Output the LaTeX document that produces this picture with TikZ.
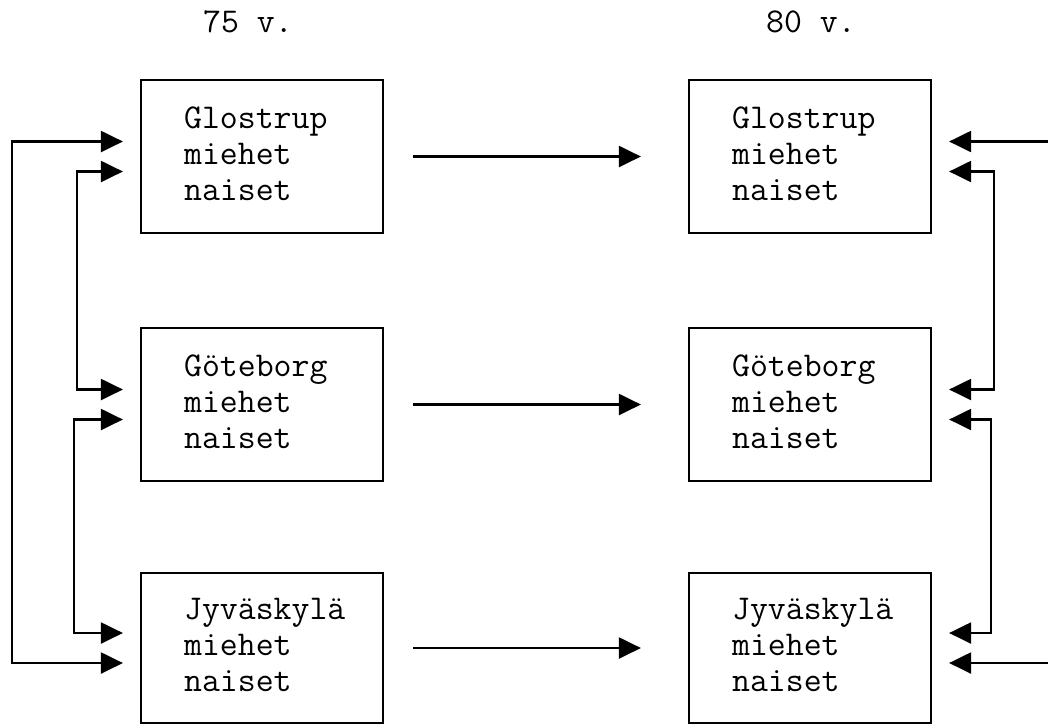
\documentclass[tikz,border=0pt]{standalone}
\usepackage{fontspec}
\usetikzlibrary{arrows.meta}
\begin{document}
\begin{tikzpicture}[x=1pt,y=-1pt,
  every node/.style={font=\ttfamily\fontsize{34.8}{36}\selectfont},
  cell/.style={draw, line width=2.2pt, minimum width=242pt, minimum height=153pt, inner sep=0pt},
  txt/.style={anchor=west, align=left, inner sep=0pt},
  head/.style={inner sep=0pt, anchor=base west},
  tip/.tip={Triangle[length=22pt,width=21pt]},
  link/.style={line width=2.2pt, tip-tip},
  fwd/.style={line width=2.2pt, -tip}]
\clip (0,0) rectangle (1048,724);

% column headings
\node[head] (h75) at (203,32) {75 v.};
\node[head] (h80) at (766,32) {80 v.};

% boxes, age 75
\node[cell] (g75) at (262,156.5) {};
\node[cell] (o75) at (262,404.5) {};
\node[cell, minimum height=150pt] (j75) at (262,648) {};
% boxes, age 80
\node[cell] (g80) at (810,156.5) {};
\node[cell] (o80) at (810,404.5) {};
\node[cell, minimum height=150pt] (j80) at (810,648) {};

% box contents
\node[txt] (g75t) at ([xshift=44pt,yshift=3pt]g75.west) {Glostrup\\miehet\\naiset};
\node[txt] (o75t) at ([xshift=44pt,yshift=3pt]o75.west) {Göteborg\\miehet\\naiset};
\node[txt] (j75t) at ([xshift=44pt,yshift=3pt]j75.west) {Jyväskylä\\miehet\\naiset};
\node[txt] (g80t) at ([xshift=44pt,yshift=3pt]g80.west) {Glostrup\\miehet\\naiset};
\node[txt] (o80t) at ([xshift=44pt,yshift=3pt]o80.west) {Göteborg\\miehet\\naiset};
\node[txt] (j80t) at ([xshift=44pt,yshift=3pt]j80.west) {Jyväskylä\\miehet\\naiset};

% follow-up arrows 75 -> 80
\draw[fwd] ([xshift=29pt]g75.east) -- ([xshift=-47pt]g80.west);
\draw[fwd] ([xshift=29pt]o75.east) -- ([xshift=-47pt]o80.west);
\draw[fwd] ([xshift=29pt]j75.east) -- ([xshift=-47pt]j80.west);

% comparisons between centres, age 75
\draw[link] ([xshift=-17pt,yshift=-15pt]j75.west) -- ++(-111,0) |- ([xshift=-17pt,yshift=15pt]g75.west);
\draw[link] ([xshift=-17pt,yshift=-15pt]g75.west) -- ++(-46,0) |- ([xshift=-17pt,yshift=15pt]o75.west);
\draw[link] ([xshift=-17pt,yshift=-15pt]o75.west) -- ++(-49,0) |- ([xshift=-17pt,yshift=15pt]j75.west);

% comparisons between centres, age 80
\draw[link] ([xshift=17pt,yshift=15pt]g80.east) -- ++(112,0) |- ([xshift=17pt,yshift=-15pt]j80.east);
\draw[link] ([xshift=17pt,yshift=-15pt]g80.east) -- ++(45,0) |- ([xshift=17pt,yshift=15pt]o80.east);
\draw[link] ([xshift=17pt,yshift=-15pt]o80.east) -- ++(42,0) |- ([xshift=17pt,yshift=15pt]j80.east);
\end{tikzpicture}
\end{document}
